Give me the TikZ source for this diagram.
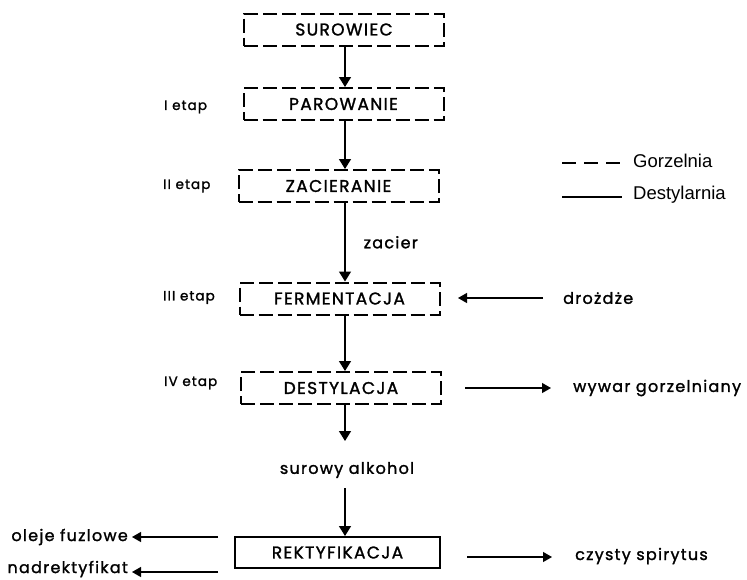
\documentclass[tikz,border=0pt]{standalone}
\usepackage{fontspec}
\setmainfont{Poppins}
\newfontfamily\flowfont{Poppins}[LetterSpace=8, RawFeature={embolden=1.5}]
\newfontfamily\legendfont{Liberation Sans}
\usetikzlibrary{arrows.meta}

\tikzset{
  gorz/.style={draw, line width=2pt, dash pattern=on 14pt off 5pt,
    minimum width=200pt, minimum height=32pt, inner sep=0pt,
    font=\flowfont\fontsize{17}{19}\selectfont},
  dest/.style={gorz, solid, minimum width=205pt, minimum height=31pt},
  flow/.style={line width=1.5pt, -{Triangle[width=12pt,length=10pt]}},
  side/.style={line width=1.2pt, -{Triangle[width=10pt,length=9pt]}},
  lbl/.style={font=\flowfont\fontsize{16}{18}\selectfont, inner sep=0pt},
  etap/.style={font=\flowfont\fontsize{13.5}{15}\selectfont, inner sep=0pt, anchor=west},
}

\begin{document}
\begin{tikzpicture}[x=1pt,y=-1pt]
\useasboundingbox (0,0) rectangle (747,579);

% process steps
\node[gorz] (surowiec) at (344,29.5) {SUROWIEC};
\node[gorz] (parowanie) at (343.5,104) {PAROWANIE};
\node[gorz] (zacieranie) at (338.5,186) {ZACIERANIE};
\node[gorz] (fermentacja) at (339.5,298.5) {FERMENTACJA};
\node[gorz] (destylacja) at (341,388) {DESTYLACJA};
\node[lbl] (alkohol) at (347,470) {surowy alkohol};
\node[dest] (rektyfikacja) at (337.5,552.5) {REKTYFIKACJA};

% stages
\node[etap] (e1) at (164,107) {I etap};
\node[etap] (e2) at (163,186) {II etap};
\node[etap] (e3) at (163,297.5) {III etap};
\node[etap] (e4) at (164,383) {IV etap};

% main flow
\draw[flow] (surowiec.south -| 345,0) -- (parowanie.north -| 345,0);
\draw[flow] (parowanie.south -| 345,0) -- (zacieranie.north -| 345,0);
\draw[flow] (zacieranie.south -| 345,0) -- (fermentacja.north -| 345,0)
  node[lbl, midway, right=18pt] (zacier) {zacier};
\draw[flow] (fermentacja.south -| 345,0) -- (destylacja.north -| 345,0);
\draw[flow] (destylacja.south -| 345,0) -- ++(0,36);
\draw[flow] (345,488) -- (rektyfikacja.north -| 345,0);

% inputs and outputs
\node[lbl, anchor=west] (drozdze) at (563,298) {drożdże};
\coordinate (d0) at (543,298);
\draw[side] (d0) -- (458,298);

\node[lbl, anchor=west] (wywar) at (573,388) {wywar gorzelniany};
\coordinate (w0) at (465,388);
\draw[side] (w0) -- (wywar.west -| 551,0);

\node[lbl, anchor=west] (spirytus) at (575,556) {czysty spirytus};
\coordinate (s0) at (467,557);
\draw[side] (s0) -- (552,557);

\node[lbl, anchor=east] (oleje) at (128,537) {oleje fuzlowe};
\coordinate (o0) at (218,537);
\draw[side] (o0) -- (oleje.east -| 132,0);

\node[lbl, anchor=east] (nadrekt) at (128,569) {nadrektyfikat};
\coordinate (n0) at (218,572);
\draw[side] (n0) -- (132,572);

% legend
\coordinate (g0) at (562,163);
\coordinate (g1) at (622,163);
\draw[line width=2.4pt, dash pattern=on 14pt off 8pt] (g0) -- (g1);
\node[anchor=west, inner sep=0pt, font=\legendfont\fontsize{18.5}{20}\selectfont] (gorzelnia) at (633,161) {Gorzelnia};
\coordinate (s1) at (562,197);
\coordinate (s2) at (622,197);
\draw[line width=2.4pt] (s1) -- (s2);
\node[anchor=west, inner sep=0pt, font=\legendfont\fontsize{18.5}{20}\selectfont] (destylarnia) at (633,195) {Destylarnia};

\end{tikzpicture}
\end{document}
